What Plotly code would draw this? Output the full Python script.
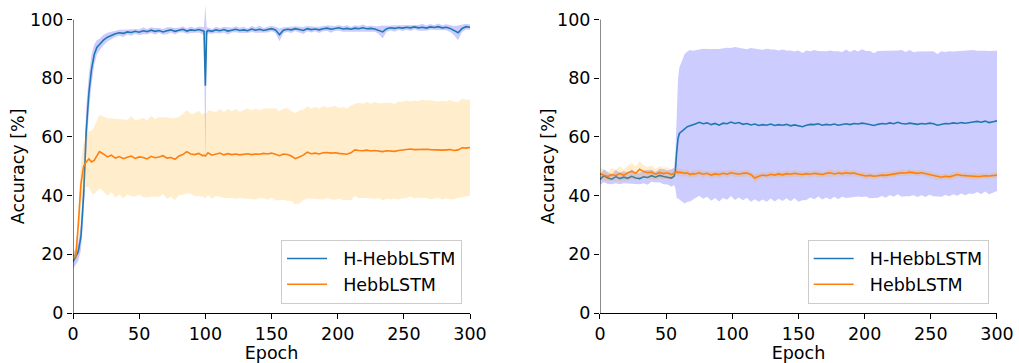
import plotly.graph_objects as go
from plotly.subplots import make_subplots

# ---------------- data ----------------
LEFT_EPOCH = list(range(0, 21, 2)) + list(range(23, 99, 3)) + [99, 100, 101] + list(range(102, 301, 3))

LEFT_H_MEAN = [17.5, 19, 21, 26, 40, 62, 75, 83, 88, 90.5, 91.5,
               93, 94, 94.6, 95.2, 95.5, 95.3, 95.8, 95.6, 96.0, 95.7, 96.2, 95.9, 96.4, 96.0, 96.3, 95.8,
               96.2, 96.5, 96.0, 96.4, 96.7, 96.1, 96.5, 96.3, 96.6, 96.2,
               96.0, 77.5, 95.8,
               96.3, 96.0, 96.5, 96.2, 96.6, 96.1, 96.4, 96.7, 96.3, 96.5,
               96.2, 96.8, 96.4, 96.7, 96.3, 96.6, 96.9, 96.5, 94.8, 96.4,
               96.7, 96.5, 96.9, 96.6, 96.3, 96.9, 96.6, 96.8, 96.5, 96.9,
               97.1, 96.7, 97.0, 97.2, 96.8, 97.0, 96.7, 97.1, 96.9, 97.2,
               96.9, 97.0, 96.8, 96.4, 95.8, 96.9, 97.2, 97.0, 97.3, 97.1,
               97.4, 97.2, 97.5, 97.2, 97.4, 97.1, 97.5, 97.3, 97.6, 97.2,
               97.4, 97.0, 96.2, 95.5, 97.0, 97.6, 97.4]
LEFT_H_STD = [2.5, 2.8, 3.2, 4.5, 6.5, 8.0, 6.5, 5.0, 3.5, 2.5, 2.0,
              1.8, 1.5, 1.3, 1.1, 1.0, 1.2, 0.9, 1.1, 0.8, 1.0, 1.2, 0.9, 1.0, 1.1, 0.8, 1.0,
              1.2, 0.9, 1.1, 0.8, 1.0, 0.9, 1.1, 0.8, 1.0, 1.2,
              1.5, 27.5, 1.5,
              1.0, 0.8, 1.1, 0.9, 1.0, 1.2, 0.8, 1.0, 0.9, 1.1,
              0.8, 1.0, 0.9, 1.2, 0.8, 1.0, 0.9, 1.1, 2.2, 1.0,
              0.9, 1.1, 0.8, 1.0, 1.2, 0.9, 1.0, 0.8, 1.1, 0.9,
              1.0, 1.2, 0.8, 1.0, 0.9, 1.1, 0.8, 1.0, 0.9, 1.1,
              0.8, 1.0, 0.9, 1.3, 2.2, 1.0, 0.9, 1.1, 0.8, 1.0,
              0.9, 1.1, 0.8, 1.0, 1.2, 0.9, 1.0, 0.8, 1.1, 0.9,
              1.0, 1.2, 1.6, 2.5, 1.2, 1.0, 0.9]
LEFT_B_MEAN = [20, 19, 30, 44, 50, 51.5, 52.5, 51.5, 52, 53.5, 55,
               54.2, 53.2, 53.8, 52.8, 53.3, 52.6, 53.1, 53.5, 52.7, 53.2, 53.0, 52.5, 53.4, 52.9, 53.2, 53.6,
               52.8, 53.0, 52.4, 53.5, 54.0, 55.0, 54.2, 54.0, 54.4, 53.6,
               53.8, 53.5, 54.0,
               54.6, 53.8, 54.2, 54.5, 53.9, 54.3, 54.0, 54.2, 53.9, 54.1,
               54.3, 54.0, 54.2, 54.1, 54.4, 54.2, 54.5, 54.1, 53.6, 54.2,
               54.0, 53.5, 52.6, 53.2, 53.8, 54.8, 54.3, 54.5, 54.2, 54.6,
               54.7, 54.5, 54.6, 54.4, 54.3, 54.1, 54.6, 55.6, 55.4, 55.3,
               55.5, 55.2, 55.4, 55.3, 55.0, 55.3, 55.2, 55.1, 55.4, 55.5,
               55.8, 55.9, 55.7, 55.8, 55.9, 55.8, 55.7, 55.6, 55.7, 55.5,
               55.6, 55.7, 55.4, 55.6, 56.3, 56.2, 56.4]
LEFT_B_STD = [1.5, 2.5, 5.0, 7.0, 8.0, 8.5, 9.5, 10.5, 11.5, 12.0, 12.5,
              12.8, 13.2, 12.6, 13.5, 12.9, 13.4, 12.7, 13.6, 13.0, 12.8, 13.5, 13.1, 13.8, 13.2, 13.6, 13.0,
              13.9, 13.4, 14.0, 13.3, 13.8, 14.2, 13.6, 14.1, 14.5, 14.0,
              14.3, 14.6, 14.2,
              14.5, 14.9, 14.3, 15.0, 14.6, 15.2, 14.8, 15.3, 14.7, 15.1,
              15.4, 15.0, 15.5, 14.9, 15.3, 15.6, 15.1, 15.7, 15.2, 15.5,
              15.8, 15.3, 15.6, 15.9, 15.4, 15.7, 15.3, 15.8, 15.5, 15.9,
              15.4, 15.7, 16.0, 15.5, 15.8, 15.6, 16.1, 15.7, 16.3, 16.0,
              16.4, 16.1, 16.5, 16.2, 16.6, 16.3, 16.5, 16.1, 16.7, 16.4,
              16.6, 16.2, 16.7, 16.4, 16.8, 16.5, 16.9, 16.6, 16.4, 16.8,
              16.5, 16.9, 16.6, 16.3, 16.7, 16.5, 16.4]

RIGHT_EPOCH = list(range(0, 55, 3)) + [56, 57, 58, 59, 60, 62, 64, 66, 68, 70, 72, 75] + list(range(78, 301, 3))

RIGHT_H_MEAN = [45.5, 46.8, 46.0, 45.6, 46.5, 45.8, 46.3, 45.9, 46.6, 46.0,
                45.8, 46.4, 46.2, 46.8, 46.3, 46.9, 46.5, 46.2, 46.0,
                46.6, 48.5, 55.0, 59.5, 61.2, 62.0, 62.8, 63.5, 63.8, 64.0, 64.4, 65.0,
                64.5, 64.8, 64.2, 64.6, 64.0, 64.7, 64.5, 65.1, 64.6, 64.9,
                64.3, 64.6, 64.1, 64.4, 63.9, 64.2, 64.0, 64.4, 63.9, 64.2,
                64.0, 64.3, 63.8, 64.1, 63.7, 63.5, 64.0, 64.3, 64.2, 64.5,
                64.0, 64.3, 64.1, 64.4, 64.0, 64.3, 64.5, 64.2, 64.6, 64.4,
                64.7, 64.5, 64.2, 63.9, 64.3, 64.6, 64.4, 64.8, 64.5, 65.0,
                64.6, 64.4, 64.7, 64.5, 64.3, 64.6, 64.4, 64.7, 64.5, 64.0,
                64.4, 64.6, 64.5, 64.8, 64.6, 64.9, 64.7, 65.0, 65.1, 65.3,
                65.0, 65.4, 64.9, 65.2, 65.5]
RIGHT_H_STD = [1.8, 2.2, 2.0, 1.7, 2.3, 1.9, 2.1, 1.8, 2.4, 2.0,
               1.9, 2.2, 2.5, 2.1, 1.8, 2.3, 2.6, 2.4, 3.0,
               3.0, 6.0, 16.0, 20.5, 22.5, 24.0, 25.5, 25.6, 25.8, 25.4, 25.2, 25.0,
               25.6, 25.2, 25.9, 25.4, 26.0, 25.5, 25.9, 25.2, 26.1, 25.5,
               25.9, 25.3, 26.2, 25.6, 26.0, 25.5, 26.1, 25.4, 25.9, 25.3,
               25.8, 25.2, 25.7, 25.0, 25.8, 25.1, 25.5, 24.9, 25.4, 24.8,
               25.3, 24.9, 25.4, 24.8, 25.2, 24.7, 25.3, 24.8, 25.1, 24.7,
               25.2, 24.8, 25.1, 24.6, 25.0, 24.7, 25.1, 24.6, 24.9, 24.5,
               25.0, 24.6, 24.9, 24.4, 24.8, 24.5, 24.9, 24.4, 24.7, 24.3,
               24.8, 24.4, 24.7, 24.3, 24.6, 24.2, 24.6, 24.3, 24.5, 24.1,
               24.5, 24.0, 24.4, 24.2, 23.9]
RIGHT_B_MEAN = [47.5, 47.0, 46.5, 47.2, 46.8, 47.6, 46.9, 47.8, 48.3, 47.6,
                49.0, 48.2, 47.8, 48.0, 47.3, 47.9, 47.5, 47.8, 47.2,
                47.6, 47.9, 48.2, 47.8, 48.0, 47.9, 47.6, 47.8, 47.2, 47.5, 47.4, 47.8,
                47.3, 47.6, 47.0, 47.4, 47.2, 47.6, 47.3, 47.8, 47.5, 47.3,
                47.6, 47.7, 47.2, 46.0, 46.6, 47.0, 46.8, 47.3, 47.0, 47.4,
                47.1, 47.5, 47.3, 47.6, 47.4, 47.2, 47.5, 47.3, 47.6, 47.4,
                47.2, 47.6, 47.8, 47.4, 47.7, 47.5, 47.8, 47.6, 47.7, 47.3,
                47.0, 46.7, 46.9, 46.6, 46.8, 47.0, 46.9, 47.2, 47.4, 47.6,
                47.8, 47.7, 48.0, 47.8, 47.6, 47.8, 47.5, 47.2, 46.8, 46.5,
                46.3, 46.6, 46.4, 46.8, 47.2, 46.9, 46.8, 46.6, 46.7, 46.5,
                46.6, 46.8, 46.7, 46.9, 47.0]
RIGHT_B_STD = [1.8, 2.0, 1.6, 2.2, 1.9, 2.4, 2.0, 2.5, 2.8, 2.3,
               2.6, 2.2, 2.0, 2.4, 1.9, 2.2, 1.8, 2.0, 1.6,
               1.5, 1.4, 1.3, 1.2, 1.3, 1.2, 1.1, 1.2, 1.0, 1.1, 1.2, 1.0,
               1.1, 0.9, 1.2, 1.0, 1.3, 0.9, 1.1, 1.0, 1.2, 0.9,
               1.0, 1.2, 0.9, 1.4, 1.1, 0.9, 1.0, 1.2, 0.8, 1.1,
               1.0, 1.2, 0.9, 1.1, 1.0, 1.3, 0.9, 1.1, 1.0, 1.2,
               0.9, 1.1, 1.3, 1.0, 1.1, 0.9, 1.2, 1.0, 1.1, 0.9,
               1.0, 1.2, 0.9, 1.1, 1.0, 0.9, 1.1, 1.0, 1.2, 0.9,
               1.1, 1.0, 1.2, 0.9, 1.1, 1.0, 0.9, 1.1, 1.0, 1.2,
               0.9, 1.1, 1.0, 1.3, 1.0, 0.9, 1.1, 1.0, 1.2, 0.9,
               1.0, 1.1, 0.9, 1.0, 1.1]

SERIES_NAMES = ["H-HebbLSTM", "HebbLSTM"]
Y_TICKS = [0, 20, 40, 60, 80, 100]
X_TICKS = [0, 50, 100, 150, 200, 250, 300]
X_TITLE = "Epoch"
Y_TITLE = "Accuracy [%]"

for a in (LEFT_H_MEAN, LEFT_H_STD, LEFT_B_MEAN, LEFT_B_STD):
    assert len(a) == len(LEFT_EPOCH), (len(a), len(LEFT_EPOCH))
for a in (RIGHT_H_MEAN, RIGHT_H_STD, RIGHT_B_MEAN, RIGHT_B_STD):
    assert len(a) == len(RIGHT_EPOCH), (len(a), len(RIGHT_EPOCH))

# ---------------- styling ----------------
LINE_COLORS = ["#1f77b4", "#ff7f0e"]
BAND_COLORS = ["rgba(0,0,255,0.2)", "rgba(255,165,0,0.2)"]
FONT = "DejaVu Sans"
FS = 17.5
PAD = "\u00a0\u00a0"

fig = make_subplots(rows=1, cols=2, horizontal_spacing=0.1406)


def add_panel(col, epoch, series, legend):
    for i, (mean, std) in enumerate(series):
        lo = [m - s for m, s in zip(mean, std)]
        hi = [m + s for m, s in zip(mean, std)]
        fig.add_trace(go.Scatter(x=epoch, y=lo, mode="lines", line=dict(width=0),
                                 showlegend=False, hoverinfo="skip"), row=1, col=col)
        fig.add_trace(go.Scatter(x=epoch, y=hi, mode="lines", line=dict(width=0),
                                 fill="tonexty", fillcolor=BAND_COLORS[i],
                                 showlegend=False, hoverinfo="skip"), row=1, col=col)
        fig.add_trace(go.Scatter(x=epoch, y=mean, mode="lines", name=PAD + SERIES_NAMES[i],
                                 line=dict(color=LINE_COLORS[i], width=1.6),
                                 legend=legend), row=1, col=col)


add_panel(1, LEFT_EPOCH, [(LEFT_H_MEAN, LEFT_H_STD), (LEFT_B_MEAN, LEFT_B_STD)], "legend")
add_panel(2, RIGHT_EPOCH, [(RIGHT_H_MEAN, RIGHT_H_STD), (RIGHT_B_MEAN, RIGHT_B_STD)], "legend2")

axis_common = dict(showgrid=False, zeroline=False, ticks="outside", ticklen=5, tickwidth=1,
                   tickcolor="black", tickfont=dict(family=FONT, size=FS, color="black"))

for c in (1, 2):
    fig.update_xaxes(range=[0, 300], tickvals=X_TICKS, showline=True, linecolor="black", linewidth=1,
                     title=dict(text=X_TITLE, font=dict(family=FONT, size=FS, color="black"), standoff=1),
                     row=1, col=c, **axis_common)
    fig.update_yaxes(range=[0, 106], tickvals=Y_TICKS, showline=False,
                     row=1, col=c, **axis_common)

# y titles centred on the 0-100 span, like the original
for xpos in (-0.0595, 0.514):
    fig.add_annotation(text=Y_TITLE, xref="paper", yref="paper", x=xpos, y=0.472,
                       textangle=-90, showarrow=False, xanchor="center", yanchor="middle",
                       font=dict(family=FONT, size=FS, color="black"))

# left spines (stop at 100 like the original)
for xr, yr in (("x", "y"), ("x2", "y2")):
    fig.add_shape(type="line", xref=xr, yref=yr, x0=0, x1=0, y0=0, y1=100,
                  line=dict(color="black", width=1), layer="above")

legend_style = dict(bgcolor="white", bordercolor="#cccccc", borderwidth=1,
                    font=dict(family=FONT, size=FS, color="black"), itemwidth=40,
                    xanchor="right", yanchor="bottom", tracegroupgap=0, traceorder="normal")
fig.update_layout(
    width=1019, height=363,
    margin=dict(l=73, r=22, t=2, b=50),
    paper_bgcolor="white", plot_bgcolor="white",
    font=dict(family=FONT, size=FS, color="black"),
    legend=dict(x=0.421, y=0.03, **legend_style),
    legend2=dict(x=0.991, y=0.03, **legend_style),
)

fig.write_html("out.html", config={"displayModeBar": False},
               post_script="document.body.style.margin='0';document.body.style.overflow='hidden';")
